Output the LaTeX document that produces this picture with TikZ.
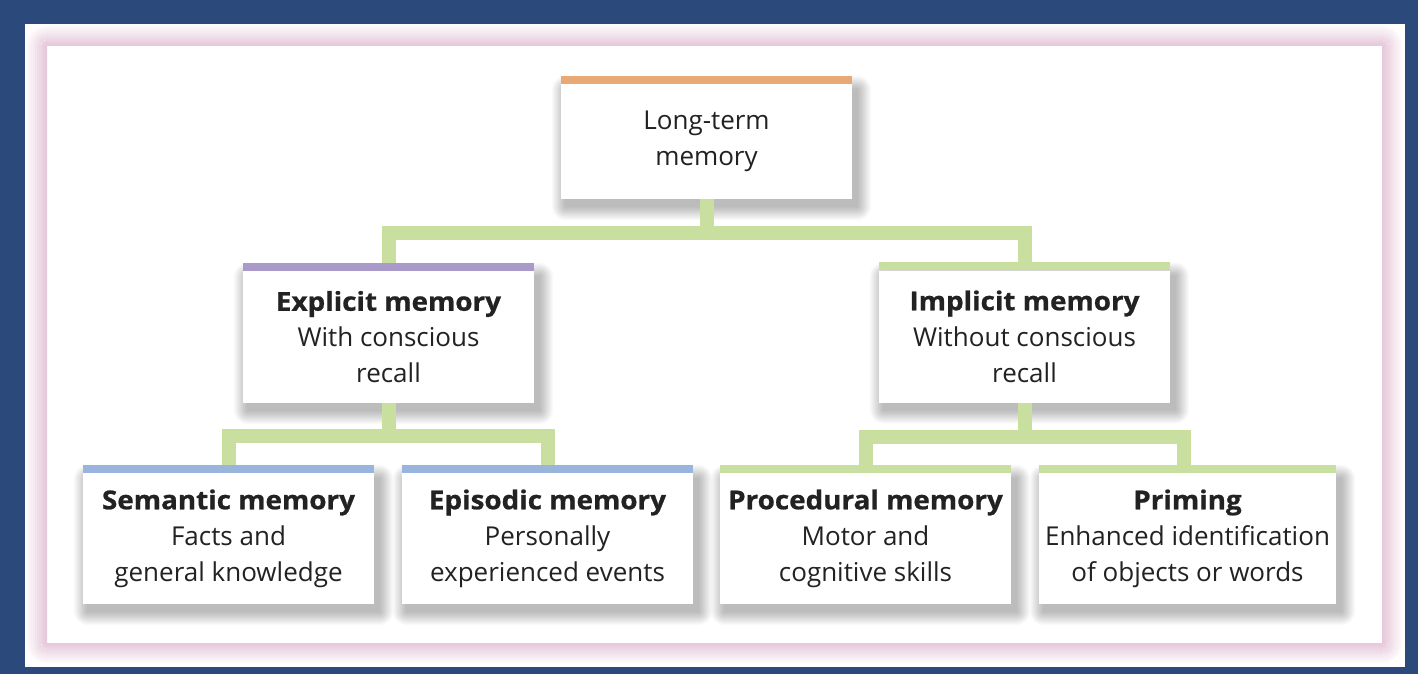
\documentclass[tikz,border=0pt]{standalone}
\usepackage{fontspec}
\setmainfont{Open Sans}[BoldFeatures={FakeStretch=1.07,FakeBold=0.8}]
\definecolor{bgblue}{HTML}{2B4A7B}
\definecolor{pinkc}{HTML}{D8A8C4}
\definecolor{conngreen}{HTML}{C8DFA0}
\definecolor{barorange}{HTML}{E9A977}
\definecolor{barpurple}{HTML}{A99AC9}
\definecolor{barblue}{HTML}{99B5DD}
\definecolor{bargreen}{HTML}{C8DFA0}
\definecolor{txt}{HTML}{222222}
\pgfdeclarelayer{back}
\pgfdeclarelayer{shade}
\pgfdeclarelayer{conns}
\pgfsetlayers{back,shade,conns,main}
\begin{document}
\begin{tikzpicture}[x=1pt,y=-1pt,
  box/.style={fill=white, minimum width=291pt, inner sep=0pt, align=center, text=txt,
    font=\fontsize{26}{36}\selectfont},
  conn/.style={draw=conngreen, line width=14pt, line join=miter}]
\useasboundingbox (0,0) rectangle (1418,674);
\begin{pgfonlayer}{back}
\fill[bgblue] (0,0) rectangle (1418,674);
\fill[white] (25,24) rectangle (1405,667);
\foreach \i [evaluate=\i as \op using 0.6-0.06*\i, evaluate=\i as \d using 1+2*\i] in {0,...,9}
  \draw[pinkc, line width=2pt, opacity=\op, rounded corners=\d pt] (47-\d,46-\d) rectangle (1382+\d,643+\d);
\end{pgfonlayer}

\node[box, minimum height=115pt] (top) at (706.5,141.5) {Long-term\\memory};
\node[box, minimum height=132pt] (expl) at (388.5,337) {\textbf{Explicit memory}\\With conscious\\recall};
\node[box, minimum height=132pt] (impl) at (1024.5,336.5) {\textbf{Implicit memory}\\Without conscious\\recall};
\node[box, minimum height=131pt] (sem) at (228.5,538.5) {\textbf{Semantic memory}\\Facts and\\general knowledge};
\node[box, minimum height=131pt] (epi) at (547.5,538.5) {\textbf{Episodic memory}\\Personally\\experienced events};
\node[box, minimum height=131pt] (proc) at (865.5,538.5) {\textbf{Procedural memory}\\Motor and\\cognitive skills};
\node[box, minimum height=131pt, minimum width=297pt] (prim) at (1187.5,538.5) {\textbf{Priming}\\Enhanced identification\\of objects or words};

\foreach \n/\c in {top/barorange, expl/barpurple, impl/bargreen, sem/barblue, epi/barblue, proc/bargreen, prim/bargreen}
  \fill[\c] (\n.north west) rectangle ([yshift=8pt]\n.north east);

\begin{pgfonlayer}{shade}
\foreach \n in {top,expl,impl,sem,epi,proc,prim}
  \foreach \k in {1,...,14}
    \fill[black, opacity=0.018, rounded corners=\k pt]
      ([xshift=5pt-\k pt, yshift=-6pt+\k pt]\n.north west) rectangle ([xshift=5pt+\k pt, yshift=-7pt-\k pt]\n.south east);
\end{pgfonlayer}

\begin{pgfonlayer}{conns}
\draw[conn] (top.south) -- ++(0,34) -| (expl.north);
\draw[conn] (top.south) -- ++(0,34) -| (impl.north);
\draw[conn] (expl.south) -- ++(0,33) -| (sem.north);
\draw[conn] (expl.south) -- ++(0,33) -| (epi.north);
\draw[conn] (impl.south) -- ++(0,34) -| (proc.north);
\draw[conn] (impl.south) -- ++(0,34) -| ([xshift=-3.5pt]prim.north);
\end{pgfonlayer}
\end{tikzpicture}
\end{document}
